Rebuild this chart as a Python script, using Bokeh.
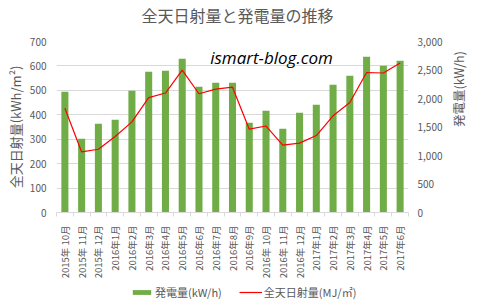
import math
from bokeh.plotting import figure
from bokeh.layouts import column
from bokeh.models import (Range1d, LinearAxis, FixedTicker, NumeralTickFormatter,
                          Label, Legend, LegendItem)
from bokeh.embed import file_html
from bokeh.resources import INLINE

months = ["2015年 10月", "2015年 11月", "2015年 12月",
          "2016年1月", "2016年2月", "2016年3月", "2016年4月", "2016年5月", "2016年6月",
          "2016年7月", "2016年8月", "2016年9月", "2016年 10月", "2016年 11月", "2016年 12月",
          "2017年1月", "2017年2月", "2017年3月", "2017年4月", "2017年5月", "2017年6月"]
generation = [2118, 1293, 1556, 1626, 2135, 2468, 2486, 2696, 2205, 2275, 2275,
              1574, 1784, 1468, 1749, 1889, 2240, 2398, 2732, 2574, 2661]
irradiation = [427, 248, 259, 311, 371, 470, 489, 583, 486, 505, 513,
               341, 354, 276, 284, 315, 396, 450, 573, 571, 612]
left_ticks = [0, 100, 200, 300, 400, 500, 600, 700]
right_ticks = [0, 500, 1000, 1500, 2000, 2500, 3000]
title_text = "全天日射量と発電量の推移"

FONT = "Noto Sans CJK JP"
GRAY = "#595959"
BAR_COLOR = "#70ad47"
LINE_COLOR = "#ff0000"
xs = list(range(len(months)))
BL, BR = 56, 67


def strip(height):
    f = figure(width=480, height=height, output_backend="svg", toolbar_location=None,
               x_range=Range1d(0, 1), y_range=Range1d(0, 1),
               min_border_left=BL, min_border_right=BR, min_border_top=0, min_border_bottom=0,
               x_axis_location=None, y_axis_location=None)
    f.outline_line_color = None
    f.xgrid.visible = False
    f.ygrid.visible = False
    return f


# title strip
tf = strip(30)
tf.add_layout(Label(x=181, y=16, x_units="screen", y_units="screen", text=title_text,
                    text_align="center", text_baseline="middle",
                    text_font=FONT, text_font_size="16px", text_color=GRAY))

# main chart
p = figure(width=480, height=252, output_backend="svg", toolbar_location=None,
           x_range=Range1d(-0.5, len(months) - 0.5), y_range=Range1d(0, 700),
           min_border_left=BL, min_border_right=BR, min_border_top=11, min_border_bottom=70,
           x_axis_location=None, y_axis_location=None)
p.outline_line_color = None
p.background_fill_color = "white"
p.border_fill_color = "white"

p.extra_y_ranges = {"right": Range1d(0, 3000)}

bars = p.vbar(x=xs, top=generation, width=0.42, y_range_name="right",
              fill_color=BAR_COLOR, line_color=None)
line = p.line(x=xs, y=irradiation, line_color=LINE_COLOR, line_width=1.2)

# x axis
xaxis = LinearAxis(ticker=FixedTicker(ticks=xs, minor_ticks=[i - 0.5 for i in range(len(months) + 1)]))
xaxis.major_label_overrides = {i: m for i, m in zip(xs, months)}
xaxis.major_label_orientation = math.pi / 2
xaxis.major_tick_line_color = None
xaxis.major_tick_out = 0
xaxis.major_tick_in = 0
xaxis.minor_tick_line_color = "#d9d9d9"
xaxis.minor_tick_out = 4
xaxis.minor_tick_in = 0
xaxis.axis_line_color = "#d9d9d9"
xaxis.major_label_standoff = 9
xaxis.major_label_text_font = FONT
xaxis.major_label_text_font_size = "9.5px"
xaxis.major_label_text_color = GRAY
p.add_layout(xaxis, "below")

# left axis
yaxis = LinearAxis(ticker=FixedTicker(ticks=left_ticks), axis_label="全天日射量(kWh/m²)")
yaxis.axis_line_color = None
yaxis.major_tick_line_color = None
yaxis.minor_tick_line_color = None
yaxis.major_tick_out = 0
yaxis.major_tick_in = 0
yaxis.major_label_standoff = 10
yaxis.major_label_text_font = FONT
yaxis.major_label_text_font_size = "10px"
yaxis.major_label_text_color = GRAY
yaxis.axis_label_text_font = FONT
yaxis.axis_label_text_font_size = "13px"
yaxis.axis_label_text_font_style = "normal"
yaxis.axis_label_text_color = GRAY
yaxis.axis_label_standoff = 2
p.add_layout(yaxis, "left")

# right axis
raxis = LinearAxis(y_range_name="right", ticker=FixedTicker(ticks=right_ticks),
                   formatter=NumeralTickFormatter(format="0,0"), axis_label="発電量(kW/h)")
raxis.axis_line_color = None
raxis.major_tick_line_color = None
raxis.minor_tick_line_color = None
raxis.major_tick_out = 0
raxis.major_tick_in = 0
raxis.major_label_standoff = 9
raxis.major_label_text_font = FONT
raxis.major_label_text_font_size = "10px"
raxis.major_label_text_color = GRAY
raxis.axis_label_text_font = FONT
raxis.axis_label_text_font_size = "12.5px"
raxis.axis_label_text_font_style = "normal"
raxis.axis_label_text_color = GRAY
raxis.axis_label_standoff = 13
try:
    raxis.axis_label_orientation = math.pi / 2
except Exception:
    pass
p.add_layout(raxis, "right")

p.xgrid.visible = False
p.ygrid.grid_line_color = "#d9d9d9"
p.ygrid.ticker = FixedTicker(ticks=left_ticks)

# watermark
p.add_layout(Label(x=215, y=155, x_units="screen", y_units="screen",
                   text="ismart-blog.com", text_align="center", text_baseline="middle",
                   text_font="Open Sans", text_font_style="italic", text_font_size="17px",
                   text_color="black"))

# legend strip (hidden copies of the series supply the legend glyphs)
lf = strip(24)
lbar = lf.vbar(x=xs, top=generation, width=0.42, fill_color=BAR_COLOR, line_color=None,
               visible=False)
lline = lf.line(x=xs, y=irradiation, line_color=LINE_COLOR, line_width=1.2, visible=False)
legend = Legend(items=[LegendItem(label="発電量(kW/h)", renderers=[lbar]),
                       LegendItem(label="全天日射量(MJ/㎡)", renderers=[lline])],
                location=(74, 6), orientation="horizontal",
                border_line_color=None, background_fill_alpha=0,
                inactive_fill_alpha=0,
                padding=0, margin=0, spacing=17, glyph_width=23, glyph_height=6,
                label_height=16, label_standoff=2,
                label_text_font=FONT, label_text_font_size="11px", label_text_color=GRAY,
                label_text_baseline="middle")
lf.add_layout(legend)

layout = column(tf, p, lf, spacing=0)
open("out.html", "w").write(file_html(layout, INLINE))
